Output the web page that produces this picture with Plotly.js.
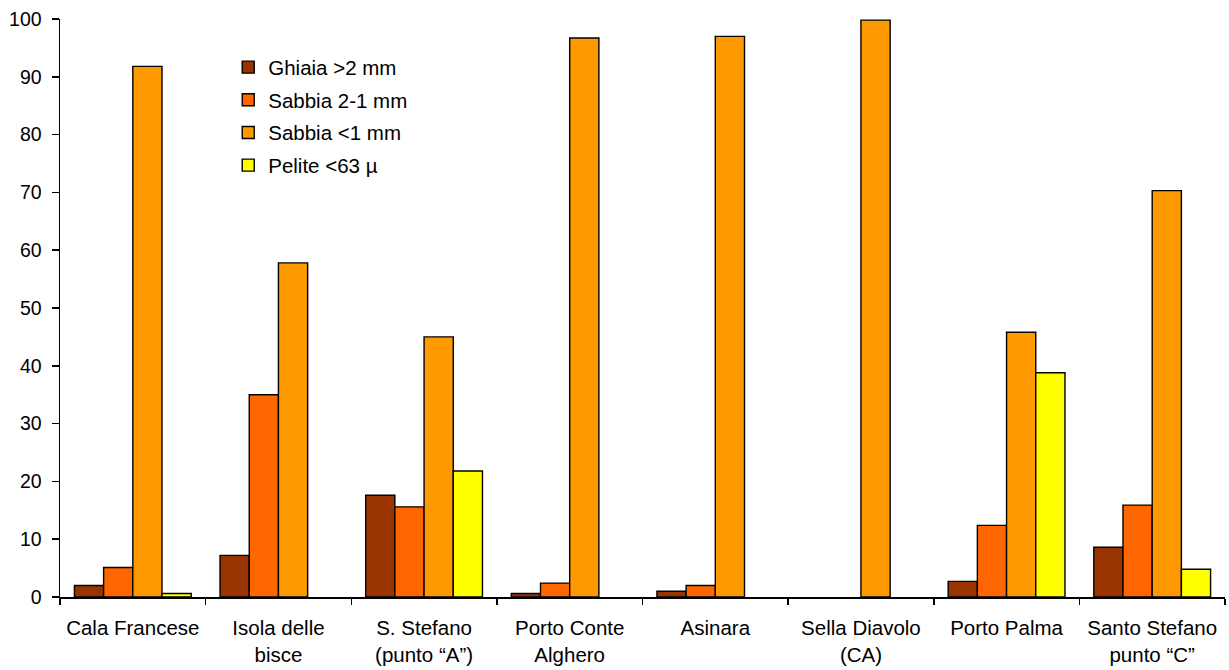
<!DOCTYPE html>
<html><head><meta charset="utf-8">
<script src="https://cdn.plot.ly/plotly-3.0.1.min.js"></script>
<style>body{margin:0;background:#fff}#chart{width:1229px;height:670px}</style>
</head><body><div id="chart"></div>
<script>
const categories = ["Cala Francese","Isola delle<br>bisce","S. Stefano<br>(punto “A”)","Porto Conte<br>Alghero","Asinara","Sella Diavolo<br>(CA)","Porto Palma","Santo Stefano<br>punto “C”"];
const seriesNames = ["Ghiaia >2 mm","Sabbia 2-1 mm","Sabbia <1 mm","Pelite <63 µ"];
const ghiaia   = [2.0, 7.2, 17.6, 0.6, 1.0, 0, 2.7, 8.6];
const sabbia21 = [5.1, 35.0, 15.6, 2.4, 2.0, 0, 12.4, 15.9];
const sabbia1  = [91.8, 57.8, 45.0, 96.7, 97.0, 99.8, 45.8, 70.3];
const pelite   = [0.6, 0, 21.8, 0, 0, 0, 38.8, 4.8];
const colors = ["#993300","#FF6600","#FF9900","#FFFF00"];
const yTicks = [0,10,20,30,40,50,60,70,80,90,100];

const values = [ghiaia, sabbia21, sabbia1, pelite];
const traces = values.map((v,i)=>({
  type:'bar', x:categories, y:v, name:seriesNames[i], legendgroup:'g'+i,
  marker:{color:colors[i], line:{color:'#000', width:v.map(d=>d>0?1.4:0)}}
}));
const fam = 'Arial, "Liberation Sans", sans-serif';
const layout = {
  width:1229, height:670,
  margin:{l:60, r:4, t:19, b:73},
  paper_bgcolor:'#fff', plot_bgcolor:'#fff',
  font:{family:fam, size:20, color:'#000'},
  barmode:'group', bargap:0.198, bargroupgap:0,
  showlegend:true,
  legend:{x:0.1444, y:0.951, xanchor:'left', yanchor:'top', bgcolor:'rgba(0,0,0,0)',
    font:{family:fam, size:20.5, color:'#000'}, tracegroupgap:3, itemwidth:30},
  xaxis:{type:'category', showline:true, linecolor:'#000', linewidth:1.5,
    ticks:'outside', tickson:'boundaries', ticklen:6, tickcolor:'#000', tickwidth:1.5,
    showgrid:false, zeroline:false, tickfont:{family:fam, size:20.5, color:'#000'},
    ticklabelstandoff:12, fixedrange:true},
  yaxis:{range:[0,100], tickvals:yTicks, ticktext:yTicks.map(String), showline:true, linecolor:'#000', linewidth:1.5,
    ticks:'outside', ticklen:7, tickcolor:'#000', tickwidth:1.5, showgrid:false, zeroline:false,
    tickfont:{family:fam, size:19.5, color:'#000'}, ticklabelstandoff:6, fixedrange:true}
};
Plotly.newPlot('chart', traces, layout, {displayModeBar:false, staticPlot:true});
</script></body></html>
